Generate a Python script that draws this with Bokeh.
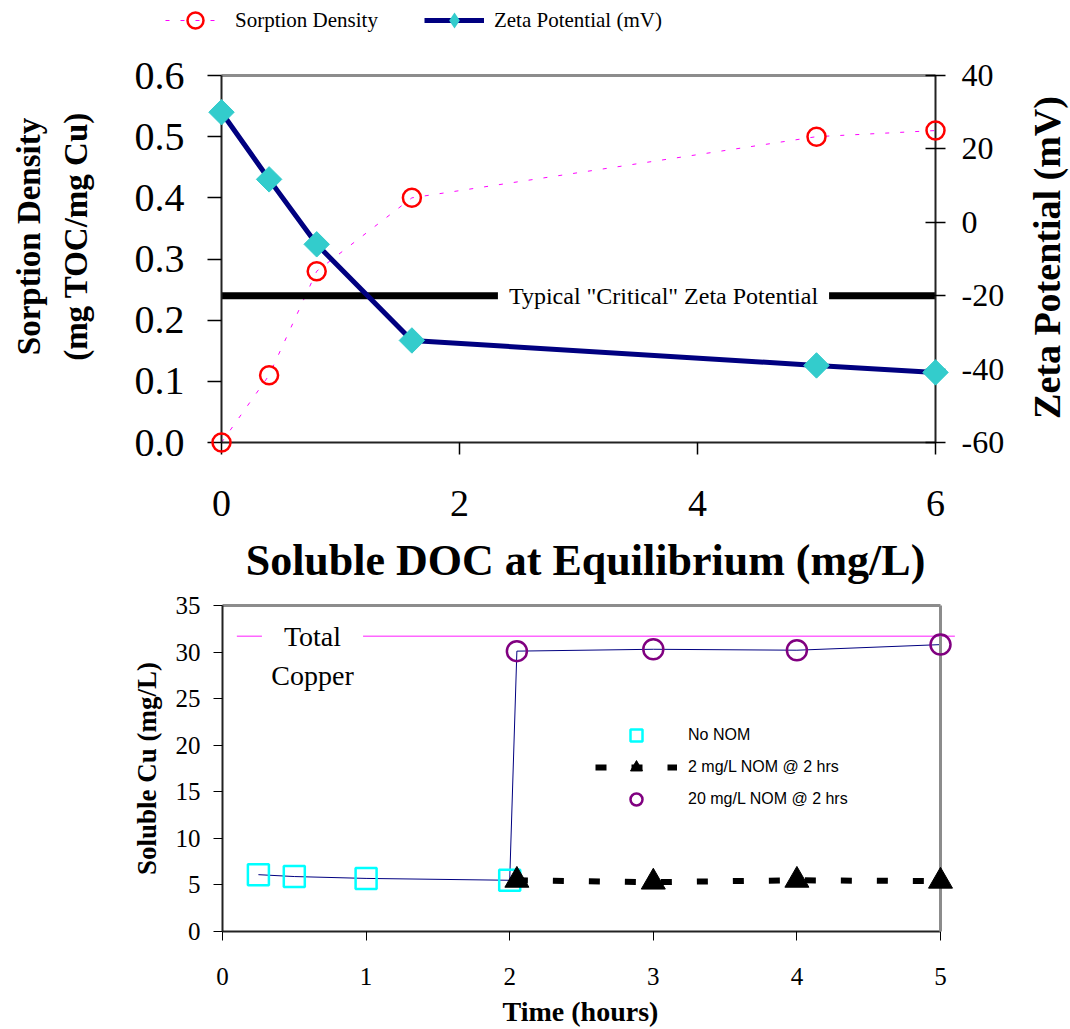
import math
from bokeh.plotting import figure
from bokeh.models import (Range1d, LinearAxis, FixedTicker, PrintfTickFormatter,
                          Legend, LegendItem, Label)
from bokeh.layouts import column
from bokeh.embed import file_html
from bokeh.resources import INLINE

# ---------------- data ----------------
doc_eq = [0.0, 0.4, 0.8, 1.6, 5.0, 6.0]
sorption_density = [0.0, 0.11, 0.28, 0.40, 0.50, 0.51]
zeta_potential = [30.0, 11.7, -6.0, -32.2, -39.0, -40.9]
critical_x = [0.0, 6.0]
critical_zeta = [-20.0, -20.0]

top_x_ticks = [0, 2, 4, 6]
top_left_ticks = [0.0, 0.1, 0.2, 0.3, 0.4, 0.5, 0.6]
top_right_ticks = [-60, -40, -20, 0, 20, 40]

time_no_nom = [0.25, 0.5, 1.0, 2.0]
cu_no_nom = [6.1, 5.9, 5.7, 5.5]
time_nom = [2.05, 3.0, 4.0, 5.0]
cu_nom_2 = [5.5, 5.3, 5.5, 5.4]
cu_nom_20 = [30.1, 30.3, 30.2, 30.8]
total_cu_time = [0.1, 5.1]
total_cu = [31.7, 31.7]

bot_x_ticks = [0, 1, 2, 3, 4, 5]
bot_y_ticks = [0, 5, 10, 15, 20, 25, 30, 35]

SERIF = "Liberation Serif"
SANS = "Liberation Sans"
W = 1070
TOP_H = 585
BOT_H = 444
AXIS_COLOR = "#222222"
BORDER_COLOR = "#8c8c8c"
TXT = "black"

# ---------------- top chart (frame = whole canvas) ----------------
# pixel frame of the axes: x 0->221, 6->935 ; y 0->442, 0.6->75
TL, TR, TT, TB = 221, 935, 75, 442
kx = (TR - TL) / 6.0
ky = (TB - TT) / 0.6
kz = (TB - TT) / 100.0


def tx(px):
    return (px - TL) / kx


def ty(py):
    return (TB - py) / ky


def tz(py):
    return -60 + (TB - py) / kz


p1 = figure(width=W, height=TOP_H, title=None, output_backend="svg", toolbar_location=None,
            x_range=Range1d(tx(0), tx(W)), y_range=Range1d(ty(TOP_H), ty(0)),
            min_border=0, min_border_left=0, min_border_right=0,
            min_border_top=0, min_border_bottom=0, outline_line_color=None)
p1.grid.visible = False
p1.extra_y_ranges = {"zeta": Range1d(tz(TOP_H), tz(0))}

xa = p1.xaxis[0]
xa.fixed_location = 0
xa.bounds = (0, 6)
xa.ticker = FixedTicker(ticks=top_x_ticks)
xa.major_label_text_font = SERIF
xa.major_label_text_font_size = "38px"
xa.major_label_text_color = TXT
xa.major_label_standoff = 36
xa.major_tick_in = 0
xa.major_tick_out = 12
xa.minor_tick_line_color = None
xa.axis_line_width = 2
xa.axis_line_color = AXIS_COLOR
xa.major_tick_line_width = 1.5

ya = p1.yaxis[0]
ya.fixed_location = 0
ya.bounds = (0, 0.6)
ya.ticker = FixedTicker(ticks=top_left_ticks)
ya.formatter = PrintfTickFormatter(format="%.1f")
ya.major_label_text_font = SERIF
ya.major_label_text_font_size = "40px"
ya.major_label_text_color = TXT
ya.major_label_standoff = 23
ya.major_tick_in = 0
ya.major_tick_out = 14
ya.minor_tick_line_color = None
ya.axis_line_width = 2
ya.axis_line_color = AXIS_COLOR
ya.major_tick_line_width = 1.5

ra = LinearAxis(y_range_name="zeta", fixed_location=6, bounds=(-60, 40),
                ticker=FixedTicker(ticks=top_right_ticks),
                formatter=PrintfTickFormatter(format="%d"),
                major_label_text_font=SERIF, major_label_text_font_size="32px",
                major_label_text_color=TXT,
                major_label_standoff=16, major_tick_in=10, major_tick_out=10,
                minor_tick_line_color=None, axis_line_width=2, axis_line_color=AXIS_COLOR,
                major_tick_line_width=1.5)
p1.add_layout(ra, "right")

tb = LinearAxis(fixed_location=0.6, bounds=(0, 6), ticker=FixedTicker(ticks=[]),
                axis_line_color=BORDER_COLOR, axis_line_width=3,
                major_tick_line_color=None, minor_tick_line_color=None,
                major_label_text_font_size="0px")
p1.add_layout(tb, "above")

sd_line = p1.line(doc_eq, sorption_density, line_color="#FF00FF", line_width=1, line_dash="4 11")
crit = p1.line(critical_x, critical_zeta, y_range_name="zeta", line_color="black", line_width=7)
z_line = p1.line(doc_eq, zeta_potential, y_range_name="zeta", line_color="#000080", line_width=5)
sd_pts = p1.scatter(doc_eq, sorption_density, marker="circle", size=18, fill_color=None,
                    line_color="#FF0000", line_width=2.5)
z_pts = p1.scatter(doc_eq, zeta_potential, y_range_name="zeta", marker="square",
                   angle=math.pi / 4, size=18, fill_color="#33CCCC", line_color="#33CCCC")
sd_pts.level = "overlay"
z_pts.level = "overlay"
# legend swatch: same series, zero-size marker on the plot, diamond shape in the legend
z_key = p1.scatter(doc_eq, zeta_potential, y_range_name="zeta", marker="diamond", size=0,
                   fill_color="#33CCCC", line_color=None)

p1.add_layout(Label(x=tx(663), y=-20, y_range_name="zeta", text='Typical "Critical" Zeta Potential',
                    text_font=SERIF, text_font_size="24px", text_color=TXT, text_align="center",
                    text_baseline="middle", background_fill_color="white", padding=(11, 4)))

leg1 = Legend(items=[LegendItem(label="Sorption Density", renderers=[sd_line, sd_pts]),
                     LegendItem(label="Zeta Potential (mV)", renderers=[z_line, z_key])],
              orientation="horizontal", location=(165, TOP_H - 40),
              padding=0, margin=0, spacing=46, glyph_width=60, glyph_height=40,
              label_height=40, label_standoff=10, label_text_font=SERIF,
              label_text_color=TXT, label_text_font_size="21px",
              border_line_color=None, background_fill_alpha=0)
p1.add_layout(leg1)

title_kw = dict(text_font=SERIF, text_font_style="bold", text_align="center",
                text_baseline="middle", text_color=TXT)
p1.add_layout(Label(x=tx(28), y=ty(236), text="Sorption Density", angle=math.pi / 2,
                    text_font_size="33px", **title_kw))
p1.add_layout(Label(x=tx(75), y=ty(236), text="(mg TOC/mg Cu)", angle=math.pi / 2,
                    text_font_size="33px", **title_kw))
p1.add_layout(Label(x=tx(1046), y=tz(257), y_range_name="zeta", text="Zeta Potential (mV)",
                    angle=math.pi / 2, text_font_size="38px", **title_kw))
p1.add_layout(Label(x=tx(585), y=ty(560), text="Soluble DOC at Equilibrium (mg/L)",
                    text_font_size="44px", **title_kw))

# ---------------- bottom chart (frame = whole canvas) ----------------
# page pixels: x 0->222, 5->940 ; y 0->931, 35->605 ; canvas starts at page y = TOP_H
BL, BR, BT, BB = 222, 940, 605 - TOP_H, 931 - TOP_H
bkx = (BR - BL) / 5.0
bky = (BB - BT) / 35.0


def bx(px):
    return (px - BL) / bkx


def by(page_py):
    return (BB - (page_py - TOP_H)) / bky


p2 = figure(width=W, height=BOT_H, title=None, output_backend="svg", toolbar_location=None,
            x_range=Range1d(bx(0), bx(W)), y_range=Range1d(by(TOP_H + BOT_H), by(TOP_H)),
            min_border=0, min_border_left=0, min_border_right=0,
            min_border_top=0, min_border_bottom=0, outline_line_color=None)
p2.grid.visible = False

bxa = p2.xaxis[0]
bxa.fixed_location = 0
bxa.bounds = (0, 5)
bxa.ticker = FixedTicker(ticks=bot_x_ticks)
bxa.major_label_text_font = SERIF
bxa.major_label_text_font_size = "25px"
bxa.major_label_text_color = TXT
bxa.major_label_standoff = 27
bxa.major_tick_in = 0
bxa.major_tick_out = 9
bxa.minor_tick_line_color = None
bxa.axis_line_width = 2
bxa.axis_line_color = AXIS_COLOR

bya = p2.yaxis[0]
bya.fixed_location = 0
bya.bounds = (0, 35)
bya.ticker = FixedTicker(ticks=bot_y_ticks)
bya.major_label_text_font = SERIF
bya.major_label_text_font_size = "25px"
bya.major_label_text_color = TXT
bya.major_label_standoff = 13
bya.major_tick_in = 0
bya.major_tick_out = 9
bya.minor_tick_line_color = None
bya.axis_line_width = 2
bya.axis_line_color = AXIS_COLOR

btb = LinearAxis(fixed_location=35, bounds=(0, 5), ticker=FixedTicker(ticks=[]),
                 axis_line_color=BORDER_COLOR, axis_line_width=3, major_tick_line_color=None,
                 minor_tick_line_color=None, major_label_text_font_size="0px")
p2.add_layout(btb, "above")
brb = LinearAxis(fixed_location=5, bounds=(0, 35), ticker=FixedTicker(ticks=[]),
                 axis_line_color=BORDER_COLOR, axis_line_width=3, major_tick_line_color=None,
                 minor_tick_line_color=None, major_label_text_font_size="0px")
p2.add_layout(brb, "right")

total_r = p2.line(total_cu_time, total_cu, line_color="#FF66FF", line_width=1.5)
link_r = p2.line(time_no_nom + time_nom, cu_no_nom + cu_nom_20, line_color="#000080", line_width=1)
tri_line = p2.line(time_nom, cu_nom_2, line_color="black", line_width=6, line_dash="11 25")
sq = p2.scatter(time_no_nom, cu_no_nom, marker="square", size=21, fill_color=None,
                line_color="#00FFFF", line_width=2.5)
tri = p2.scatter(time_nom, cu_nom_2, marker="triangle", size=24, fill_color="black",
                 line_color="black")
circ = p2.scatter(time_nom, cu_nom_20, marker="circle", size=20, fill_color=None,
                  line_color="#800080", line_width=2.5)
for r in (sq, tri, circ):
    r.level = "overlay"

p2.add_layout(Label(x=bx(312), y=31.7, text="Total", text_font=SERIF, text_font_size="28px",
                    text_color=TXT, text_align="center", text_baseline="middle",
                    background_fill_color="white", padding=(22, 2)))
p2.add_layout(Label(x=bx(312), y=by(675), text="Copper", text_font=SERIF, text_font_size="28px",
                    text_color=TXT, text_align="center", text_baseline="middle"))

leg2 = Legend(items=[LegendItem(label="No NOM", renderers=[sq]),
                     LegendItem(label="2 mg/L NOM @ 2 hrs", renderers=[tri_line, tri]),
                     LegendItem(label="20 mg/L NOM @ 2 hrs", renderers=[circ])],
              orientation="vertical", location=(595, TOP_H + BOT_H - 814),
              padding=0, margin=0, spacing=2, glyph_width=82, glyph_height=30,
              label_height=30, label_standoff=11, label_text_font=SANS,
              label_text_color=TXT, label_text_font_size="16px",
              border_line_color=None, background_fill_alpha=0)
p2.add_layout(leg2)

p2.add_layout(Label(x=bx(146), y=by(768), text="Soluble Cu (mg/L)", angle=math.pi / 2,
                    text_font_size="27px", **title_kw))
p2.add_layout(Label(x=bx(580), y=by(1011), text="Time (hours)", text_font_size="28px",
                    **title_kw))

layout = column(p1, p2)
open("out.html", "w").write(file_html(layout, INLINE))
